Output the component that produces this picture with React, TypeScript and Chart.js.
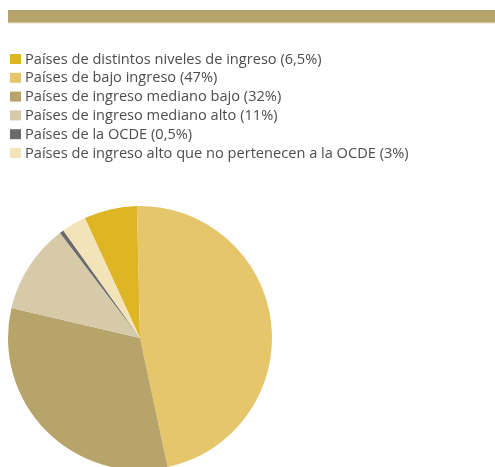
import React, { useEffect, useRef } from "react";
import { Chart, registerables } from "chart.js";

Chart.register(...registerables);

const categories = [
  "Países de distintos niveles de ingreso (6,5%)",
  "Países de bajo ingreso (47%)",
  "Países de ingreso mediano bajo (32%)",
  "Países de ingreso mediano alto (11%)",
  "Países de la OCDE (0,5%)",
  "Países de ingreso alto que no pertenecen a la OCDE (3%)",
];
const values = [6.5, 47, 32, 11, 0.5, 3];
const colors = ["#DDB525", "#E5C66B", "#B7A46B", "#D6CAA9", "#6B6B6D", "#F2E3B9"];

const W = 495;
const H = 480;

const decorPlugin = {
  id: "decor",
  beforeDraw(chart: any) {
    const ctx = chart.ctx;
    ctx.save();
    ctx.fillStyle = "#B5A36B";
    ctx.fillRect(8, 10, 487, 13);
    ctx.fillStyle = "#E9E1C4";
    ctx.fillRect(8, 22.5, 487, 1);
    const labels = chart.data.labels as string[];
    const bg = chart.data.datasets[0].backgroundColor as string[];
    ctx.font = "14.6px 'Open Sans'";
    ctx.textBaseline = "middle";
    ctx.textAlign = "left";
    labels.forEach((l, i) => {
      const cy = 59 + i * 18.8;
      ctx.fillStyle = bg[i];
      ctx.fillRect(10, cy - 5, 11, 10);
      ctx.fillStyle = "#4D4D4D";
      ctx.fillText(l, 25, cy + 0.5);
    });
    ctx.restore();
  },
};

export default function App() {
  const ref = useRef<HTMLCanvasElement>(null);
  useEffect(() => {
    if (!ref.current) return;
    const chart = new Chart(ref.current, {
      type: "pie",
      data: {
        labels: categories,
        datasets: [
          {
            data: values,
            backgroundColor: colors,
            borderWidth: 0,
          },
        ],
      },
      options: {
        animation: false,
        responsive: false,
        rotation: -24.7,
        layout: { padding: { left: 8, right: 223, top: 206, bottom: 10 } },
        plugins: {
          legend: { display: false },
          tooltip: { enabled: false },
        },
      },
      plugins: [decorPlugin],
    });
    return () => chart.destroy();
  }, []);
  return (
    <div style={{ position: "fixed", left: 0, top: 0, width: W, height: 467, overflow: "hidden", background: "#fff" }}>
      <canvas ref={ref} width={W} height={H} style={{ display: "block", width: W, height: H }} />
    </div>
  );
}
